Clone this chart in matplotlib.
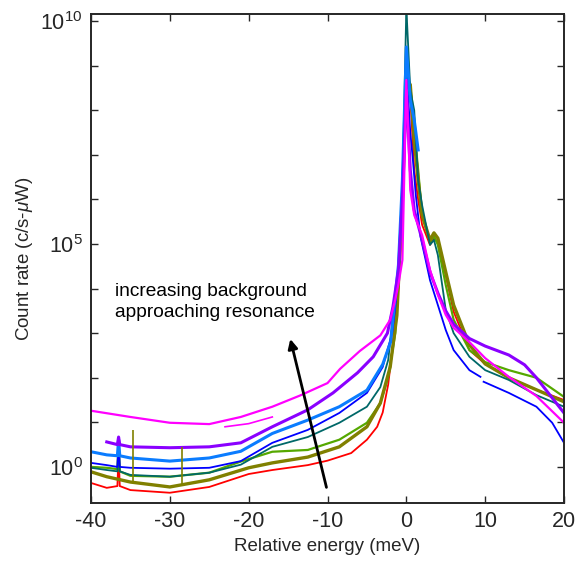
import numpy as np
import matplotlib
matplotlib.use('Agg')
import matplotlib.pyplot as plt

plt.rcParams['font.family'] = ['Liberation Sans', 'DejaVu Sans']
plt.rcParams['axes.unicode_minus'] = False
plt.rcParams['mathtext.fontset'] = 'custom'
plt.rcParams['mathtext.rm'] = 'Liberation Sans'
plt.rcParams['mathtext.it'] = 'Liberation Sans:italic'

# values; y given as log10(count rate)
red_x = [-40, -38, -36.65, -36.5, -36.35, -35, -30, -25, -20, -17, -12.5, -10, -7, -5, -3.7, -3, -2.3, -1.8, -1.4, -1, -0.5, 0,
         0.5, 1, 1.5, 2, 3, 3.5, 4, 5, 6, 8, 10, 13, 16.5, 20]
red_e = [-0.36, -0.47, -0.43, 0.31, -0.43, -0.52, -0.58, -0.45, -0.16, -0.07, 0.04, 0.14, 0.31, 0.61, 0.90, 1.22, 1.85, 2.6, 3.35, 4.0, 5.54, 8.52,
         8.34, 6.66, 5.99, 5.43, 4.98, 5.13, 5.04, 4.30, 3.48, 2.62, 2.31, 2.0, 1.73, 1.50]

olive_x = [-40, -38, -35, -30, -25, -20, -17, -12.5, -8.5, -5, -3.3, -2.05, -1.2, -0.5, 0,
           0.5, 1, 1.5, 2, 3, 3.5, 4, 5, 6, 8, 10, 13, 16.5, 20]
olive_e = [-0.11, -0.22, -0.34, -0.45, -0.29, -0.02, 0.09, 0.22, 0.45, 0.90, 1.43, 2.24, 3.4, 5.99, 8.74,
           8.57, 7.33, 6.43, 5.65, 5.09, 5.25, 5.13, 4.37, 3.63, 2.74, 2.31, 2.0, 1.73, 1.46]
olive_spike_x = [-34.7, -28.4]
olive_spike_base = [-0.34, -0.42]
olive_spike_top = [0.83, 0.45]

green_x = [-40, -38, -36.65, -36.5, -36.35, -35, -30, -25, -21, -17, -12.5, -8.5, -5, -3.3, -2.3, -1.4, -0.5, 0,
           0.5, 1, 1.5, 2, 3, 3.5, 4, 5, 6, 8, 10, 13, 16.5, 20]
green_e = [0.0, -0.02, -0.05, 0.54, -0.1, -0.20, -0.22, -0.13, 0.12, 0.34, 0.38, 0.61, 0.99, 1.43, 2.02, 3.0, 5.76, 8.74,
           8.57, 7.56, 6.66, 5.65, 5.04, 5.18, 4.98, 4.08, 3.30, 2.62, 2.35, 2.17, 2.0, 1.57]

teal_x = [-40, -38, -36.65, -36.5, -36.35, -35, -30, -25, -21, -17, -12.5, -8.5, -5, -3.3, -2.3, -1.7, -1, -0.5, 0,
          0.5, 1, 1.5, 2, 3, 3.5, 4, 5, 6, 8, 10, 13, 16.5, 20]
teal_e = [-0.02, -0.07, -0.1, 0.61, -0.1, -0.18, -0.22, -0.13, 0.05, 0.45, 0.67, 0.99, 1.35, 1.79, 2.40, 3.36, 4.2, 6.21, 10.3,
          8.45, 8.0, 6.43, 5.87, 4.98, 5.09, 4.75, 3.52, 3.0, 2.47, 2.17, 1.95, 1.61, 1.35]

blue_x = [-40, -38, -36.65, -36.5, -36.35, -35, -30, -25, -21, -17, -12.5, -8.5, -5, -3, -1.8, -1.4, -1, -0.5, 0,
          0.5, 0.8, 1.2, 1.8, 2.5, 3, 4, 5, 6, 8, 9.4, 9.6, 9.8, 13, 16.5, 18.5, 20]
blue_e = [0.09, 0.04, 0.0, 0.61, 0.0, -0.02, -0.04, -0.02, 0.13, 0.54, 0.83, 1.21, 1.66, 2.24, 3.0, 3.59, 4.42, 6.32, 8.97,
          7.5, 6.95, 6.1, 5.16, 4.6, 4.19, 3.63, 3.07, 2.62, 2.17, 2.02, np.nan, 1.91, 1.66, 1.35, 0.99, 0.54]

azure_x = [-40, -38, -36.65, -36.5, -36.35, -35, -30, -25, -21, -17, -12.5, -8.5, -5, -3, -2, -1, -0.5, 0,
           0.5, 1, 1.5]
azure_e = [0.34, 0.27, 0.25, 0.61, 0.25, 0.20, 0.13, 0.20, 0.35, 0.75, 1.05, 1.35, 1.72, 2.3, 2.8, 4.53, 6.43, 9.42,
           8.23, 7.78, 7.11]

purple_x = [-38, -36.65, -36.5, -36.35, -35, -30, -25, -21, -17, -12.5, -9.3, -6.2, -4.2, -2.4, -1.7, -1, -0.5, 0,
            0.5, 1, 2, 3, 4, 5, 6, 8, 10, 13, 15, 16.5, 18, 20]
purple_e = [0.56, 0.5, 0.67, 0.5, 0.45, 0.43, 0.45, 0.54, 0.90, 1.28, 1.66, 2.11, 2.47, 3.0, 3.59, 4.42, 5.99, 8.45,
            6.66, 5.76, 5.09, 4.37, 3.9, 3.5, 3.2, 2.88, 2.71, 2.51, 2.29, 2.0, 1.66, 1.21]

magenta_x = [-40, -35, -30, -25, -21, -17, -13.5, -10, -8.4, -5.9, -3.3, -2.05, -1.42, -1, -0.5, 0,
             0.5, 1, 2, 3, 4, 5, 6, 8, 10, 13, 16.5, 20]
magenta_e = [1.26, 1.12, 0.99, 0.96, 1.12, 1.35, 1.6, 1.88, 2.2, 2.6, 2.95, 3.3, 3.74, 4.1, 4.64, 8.68,
             6.21, 5.65, 5.20, 4.42, 3.86, 3.41, 3.12, 2.80, 2.44, 2.02, 1.59, 0.99]

magenta2_x = [-23, -20, -17]
magenta2_e = [0.90, 0.97, 1.12]

xticks = [-40, -30, -20, -10, 0, 10, 20]
ydecades = list(range(0, 11))

fig = plt.figure(figsize=(5.77, 5.66), dpi=100)
ax = fig.add_axes([0.1577, 0.1113, 0.8198, 0.864])

curves = [
    (red_x, red_e, '#ff0000', 1.3),
    (green_x, green_e, '#55a800', 1.6),
    (olive_x, olive_e, '#808000', 2.4),
    (teal_x, teal_e, '#006868', 1.3),
    (blue_x, blue_e, '#0000ff', 1.3),
    (azure_x, azure_e, '#0a7cff', 2.2),
    (purple_x, purple_e, '#8a00ff', 2.2),
    (magenta_x, magenta_e, '#ff00ff', 1.6),
    (magenta2_x, magenta2_e, '#ff00ff', 1.2),
]
for xs, es, col, lw in curves:
    ax.plot(xs, 10 ** np.array(es), color=col, lw=lw)
ax.vlines(olive_spike_x, 10 ** np.array(olive_spike_base), 10 ** np.array(olive_spike_top),
          color='#808000', lw=1.2)

ax.set_yscale('log')
ax.set_xlim(-40, 20)
ax.set_ylim(10 ** -0.81, 10 ** 10.16)
ax.set_xticks(xticks)
ax.set_yticks([10.0 ** d for d in ydecades])
ax.set_yticklabels(['$10^{%d}$' % d if d % 5 == 0 else '' for d in ydecades])
ax.yaxis.set_minor_locator(matplotlib.ticker.NullLocator())

ink = '#262626'
ax.tick_params(which='both', direction='in', top=True, right=True, length=5, width=1.0,
               colors=ink, labelsize=15.5, pad=6)
for s in ax.spines.values():
    s.set_color(ink)
    s.set_linewidth(1.4)

ax.set_xlabel('Relative energy (meV)', fontsize=13.5, color=ink)
ax.set_ylabel('Count rate (c/s-$\\mu$W)', fontsize=13.5, color=ink)

ax.annotate('', xy=(-14.8, 10 ** 2.93), xytext=(-10.05, 10 ** -0.52),
            arrowprops=dict(arrowstyle='-|>', color='black', lw=2, mutation_scale=14))
ax.text(-37, 10 ** 4.12, 'increasing background\napproaching resonance',
        fontsize=13.8, va='top', ha='left', linespacing=1.3, color='black')

fig.savefig('out.png', dpi=100)
